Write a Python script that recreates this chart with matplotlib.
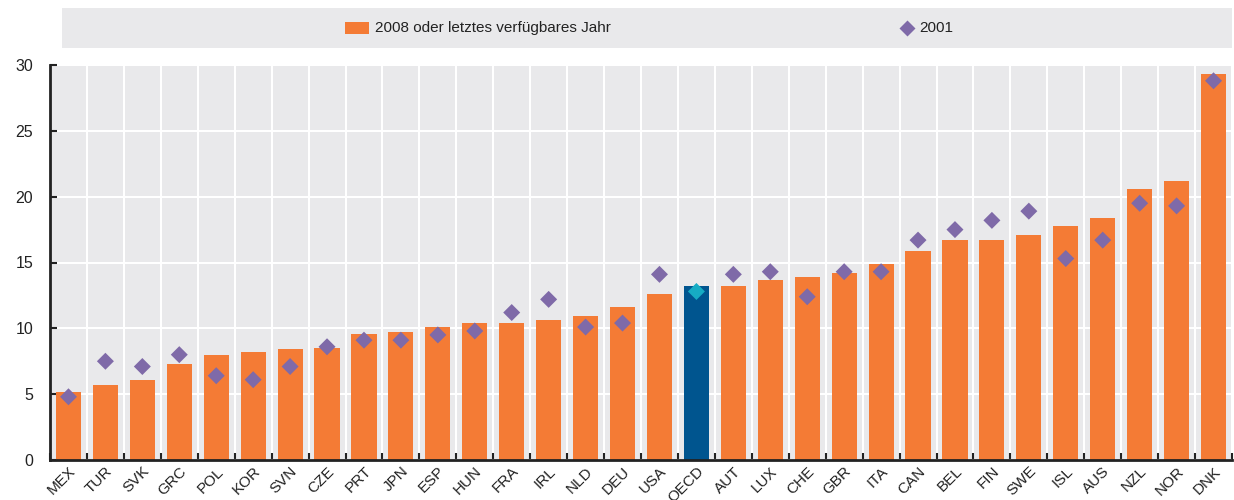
import numpy as np
import matplotlib; matplotlib.use('Agg'); import matplotlib.pyplot as plt
from matplotlib.patches import Rectangle
from matplotlib.lines import Line2D
from matplotlib.transforms import ScaledTranslation

# Daten
countries = ['MEX', 'TUR', 'SVK', 'GRC', 'POL', 'KOR', 'SVN', 'CZE', 'PRT', 'JPN', 'ESP', 'HUN', 'FRA', 'IRL',
             'NLD', 'DEU', 'USA', 'OECD', 'AUT', 'LUX', 'CHE', 'GBR', 'ITA', 'CAN', 'BEL', 'FIN', 'SWE', 'ISL',
             'AUS', 'NZL', 'NOR', 'DNK']
val_2008 = [5.2, 5.7, 6.1, 7.3, 8.0, 8.2, 8.4, 8.5, 9.6, 9.7, 10.1, 10.4, 10.4, 10.6,
            10.9, 11.6, 12.6, 13.2, 13.2, 13.7, 13.9, 14.2, 14.9, 15.9, 16.7, 16.7, 17.1, 17.8,
            18.4, 20.6, 21.2, 29.3]
val_2001 = [4.8, 7.5, 7.1, 8.0, 6.4, 6.1, 7.1, 8.6, 9.1, 9.1, 9.5, 9.8, 11.2, 12.2,
            10.1, 10.4, 14.1, 12.8, 14.1, 14.3, 12.4, 14.3, 14.3, 16.7, 17.5, 18.2, 18.9, 15.3,
            16.7, 19.5, 19.3, 28.8]
yticks = [0, 5, 10, 15, 20, 25, 30]

ORANGE = '#F47B35'; BLUE = '#00558F'; PURPLE = '#7F6AA8'; CYAN = '#16ACC4'; BG = '#E9E9EB'; INK = '#222222'
plt.rcParams['font.family'] = ['Liberation Sans', 'DejaVu Sans']

fig = plt.figure(figsize=(12.34, 5.0), dpi=100)
ax = fig.add_axes([50/1234, 40/500, 1182/1234, 395/500])
ax.set_facecolor(BG)
x = np.arange(len(countries))
cols = [BLUE if c == 'OECD' else ORANGE for c in countries]
ax.bar(x, val_2008, width=0.68, color=cols, zorder=3)
mcols = [CYAN if c == 'OECD' else PURPLE for c in countries]
ax.scatter(x, val_2001, marker='D', s=75, c=mcols, zorder=4, linewidths=0)

ax.set_xlim(-0.5, len(countries)-0.5); ax.set_ylim(0, 30)
ax.set_yticks(yticks)
ax.set_yticklabels([str(v) for v in yticks], fontsize=11.5, color=INK)
ax.set_xticks(x)
ax.set_xticklabels(countries, rotation=45, ha='right', va='top', rotation_mode='anchor', fontsize=11, color=INK)
off = ScaledTranslation(5/100, 0, fig.dpi_scale_trans)
for lb in ax.get_xticklabels(): lb.set_transform(lb.get_transform() + off)
ax.set_xticks(np.arange(len(countries)+1)-0.5, minor=True)
ax.tick_params(axis='x', which='major', length=0, pad=3)
ax.tick_params(axis='x', which='minor', direction='in', length=5, width=1.5, color=INK)
ax.tick_params(axis='y', direction='in', length=5, width=1.5, color=INK, pad=12)
ax.grid(axis='y', which='major', color='white', lw=1.5, zorder=1)
ax.grid(axis='x', which='minor', color='white', lw=1.5, zorder=1)
for s in ['top', 'right']: ax.spines[s].set_visible(False)
for s in ['left', 'bottom']: ax.spines[s].set_linewidth(2); ax.spines[s].set_color(INK); ax.spines[s].set_zorder(5)

# Legende
fig.add_artist(Rectangle((62/1234, 1-48/500), 1170/1234, 40/500, transform=fig.transFigure, facecolor=BG, edgecolor='none'))
fig.add_artist(Rectangle((345/1234, 1-34/500), 24/1234, 12/500, transform=fig.transFigure, facecolor=ORANGE, edgecolor='none'))
fig.text(375/1234, 1-28/500, '2008 oder letztes verfügbares Jahr', fontsize=11, va='center', ha='left', color=INK)
fig.add_artist(Line2D([907/1234], [1-28/500], transform=fig.transFigure, marker='D', ms=8, color=PURPLE, mec='none', ls='none'))
fig.text(919/1234, 1-28/500, '2001', fontsize=11, va='center', ha='left', color=INK)

fig.savefig('out.png', dpi=100)
